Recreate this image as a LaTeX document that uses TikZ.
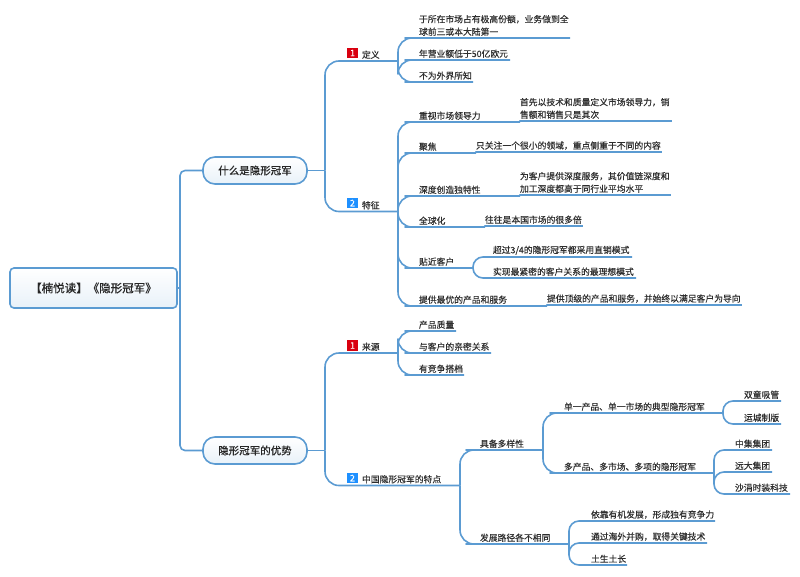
\documentclass[tikz,border=0pt]{standalone}
\usepackage{fontspec}
\setmainfont[FakeBold=0.25]{Noto Sans CJK SC}
\newfontfamily\headfont[FakeBold=0.6]{Noto Sans CJK SC}
\definecolor{ln}{HTML}{5B9BD2}
\definecolor{tx}{HTML}{2E2E2E}
\definecolor{bred}{HTML}{D9000F}
\definecolor{bblue}{HTML}{1E90FF}
\tikzset{
  conn/.style={draw=ln,line width=1.6pt,rounded corners=14pt,line join=round},
  connsm/.style={draw=ln,line width=1.6pt,rounded corners=10pt,line join=round},
  connroot/.style={draw=ln,line width=1.6pt,rounded corners=5pt,line join=round},
  connlink/.style={draw=ln,line width=1.6pt,line join=round},
  leaf/.style={anchor=south west,inner xsep=0pt,inner ysep=2.2pt,outer sep=0pt,font=\fontsize{8.8pt}{12.6pt}\selectfont,text=tx,align=left},
  rootbox/.style={draw=ln,line width=1.6pt,rounded corners=4pt,top color=white,bottom color=ln!14,font=\headfont\fontsize{11.5pt}{14pt}\selectfont,text=black!85,minimum width=167pt,minimum height=40pt,inner sep=0pt,outer sep=0pt},
  topicbox/.style={draw=ln,line width=1.6pt,rounded corners=12pt,top color=white,bottom color=ln!14,font=\headfont\fontsize{10.5pt}{13pt}\selectfont,text=black!85,minimum width=104pt,minimum height=27pt,inner sep=0pt,outer sep=0pt},
  badge/.style={minimum size=10.5pt,inner sep=0pt,text=white,font=\headfont\fontsize{9pt}{9pt}\selectfont},
  badgered/.style={badge,fill=bred},
  badgeblue/.style={badge,fill=bblue},
}
\begin{document}
\begin{tikzpicture}[x=1pt,y=-1pt]
\useasboundingbox (0,0) rectangle (800,576);
\fill[white] (0,0) rectangle (800,576);
% main nodes
\node[rootbox] (root) at (93.5,288) {【楠悦读】《隐形冠军》};
\node[topicbox] (t1) at (255,170.5) {什么是隐形冠军};
\node[topicbox] (t2) at (255,450.5) {隐形冠军的优势};
\coordinate (jroot) at (180,288);
\coordinate (jt1) at (325,170.5);
\coordinate (jt2) at (325,450.5);
% second level
\node[badgered] (i1) at (352.5,53) {1};
\node[badgeblue] (i2) at (352.5,203) {2};
\node[badgered] (i3) at (352.5,345.5) {1};
\node[badgeblue] (i4) at (352.5,478) {2};
\node[leaf,text width=36pt] (def) at (362,61) {定义};
\node[leaf,text width=36pt] (fea) at (362,211.5) {特征};
\node[leaf,text width=36pt] (src) at (362,353) {来源};
\node[leaf,text width=98pt] (chn) at (362,485.5) {中国隐形冠军的特点};
% definition
\node[leaf,text width=151pt] (a1) at (419,38) {于所在市场占有极高份额，业务做到全\\球前三或本大陆第一};
\node[leaf,text width=91pt] (a2) at (419,60) {年营业额低于50亿欧元};
\node[leaf,text width=54pt] (a3) at (419,82) {不为外界所知};
% features
\node[leaf,text width=101pt] (b1) at (419,122) {重视市场领导力};
\node[leaf,text width=152pt] (b1d) at (520,121) {首先以技术和质量定义市场领导力，销\\售额和销售只是其次};
\node[leaf,text width=57pt] (b2) at (419,153) {聚焦};
\node[leaf,text width=186pt] (b2d) at (476,152) {只关注一个很小的领域，重点侧重于不同的内容};
\node[leaf,text width=101pt] (b3) at (419,196) {深度创造独特性};
\node[leaf,text width=151pt] (b3d) at (520,195) {为客户提供深度服务，其价值链深度和\\加工深度都高于同行业平均水平};
\node[leaf,text width=66pt] (b4) at (419,227) {全球化};
\node[leaf,text width=98pt] (b4d) at (485,226) {往往是本国市场的很多倍};
\node[leaf,text width=54pt] (b5) at (419,268) {贴近客户};
\node[leaf,text width=139pt] (b5a) at (493,257) {超过3/4的隐形冠军都采用直销模式};
\node[leaf,text width=143pt] (b5b) at (493,278) {实现最紧密的客户关系的最理想模式};
\node[leaf,text width=128pt] (b6) at (419,306) {提供最优的产品和服务};
\node[leaf,text width=195pt] (b6d) at (547,305) {提供顶级的产品和服务，并始终以满足客户为导向};
% sources
\node[leaf,text width=37pt] (c1) at (419,331) {产品质量};
\node[leaf,text width=72pt] (c2) at (419,353) {与客户的亲密关系};
\node[leaf,text width=45pt] (c3) at (419,375) {有竞争搭档};
% chinese
\node[leaf,text width=63pt] (d1) at (480,450) {具备多样性};
\node[leaf,text width=89pt] (d2) at (480,544) {发展路径各不相同};
\node[leaf,text width=159pt] (e1) at (564,413) {单一产品、单一市场的典型隐形冠军};
\node[leaf,text width=150pt] (e2) at (564,473) {多产品、多市场、多项的隐形冠军};
\node[leaf,text width=37pt] (f1) at (744,401) {双童吸管};
\node[leaf,text width=37pt] (f2) at (744,424) {运城制版};
\node[leaf,text width=37pt] (g1) at (735,450) {中集集团};
\node[leaf,text width=37pt] (g2) at (735,472) {远大集团};
\node[leaf,text width=55pt] (g3) at (735,494) {沙涓时装科技};
\node[leaf,text width=124pt] (h1) at (591,521) {依靠有机发展，形成独有竞争力};
\node[leaf,text width=116pt] (h2) at (591,543) {通过海外并购，取得关键技术};
\node[leaf,text width=36pt] (h3) at (591,565) {土生土长};
% connectors
\draw[connroot] (root.east) -- (jroot);
\draw[connroot] (jroot) |- (t1.west);
\draw[connroot] (jroot) |- (t2.west);
\draw[conn] (t1.east) -- (jt1);
\draw[conn] (t2.east) -- (jt2);
\draw[conn] (jt1) |- (def.south west) -- (def.south east);
\draw[conn] (jt1) |- (fea.south west) -- (fea.south east);
\draw[conn] (jt2) |- (src.south west) -- (src.south east);
\draw[conn] (jt2) |- (chn.south west) -- (chn.south east);
\foreach \c in {a1,a2,a3} \draw[conn] (def.south east) |- (\c.south west) -- (\c.south east);
\foreach \c in {b1,b2,b3,b4,b5,b6} \draw[conn] (fea.south east) |- (\c.south west) -- (\c.south east);
\foreach \c in {c1,c2,c3} \draw[conn] (src.south east) |- (\c.south west) -- (\c.south east);
\foreach \p/\c in {b1/b1d,b2/b2d,b3/b3d,b4/b4d,b6/b6d} \draw[connlink] (\p.south east) -- (\c.south west) -- (\c.south east);
\foreach \c in {b5a,b5b} \draw[connsm] (b5.south east) |- (\c.south west) -- (\c.south east);
\foreach \c in {d1,d2} \draw[conn] (chn.south east) |- (\c.south west) -- (\c.south east);
\foreach \c in {e1,e2} \draw[conn] (d1.south east) |- (\c.south west) -- (\c.south east);
\foreach \c in {h1,h2,h3} \draw[connsm] (d2.south east) |- (\c.south west) -- (\c.south east);
\foreach \c in {f1,f2} \draw[connsm] (e1.south east) |- (\c.south west) -- (\c.south east);
\foreach \c in {g1,g2,g3} \draw[connsm] (e2.south east) |- (\c.south west) -- (\c.south east);
\end{tikzpicture}
\end{document}
